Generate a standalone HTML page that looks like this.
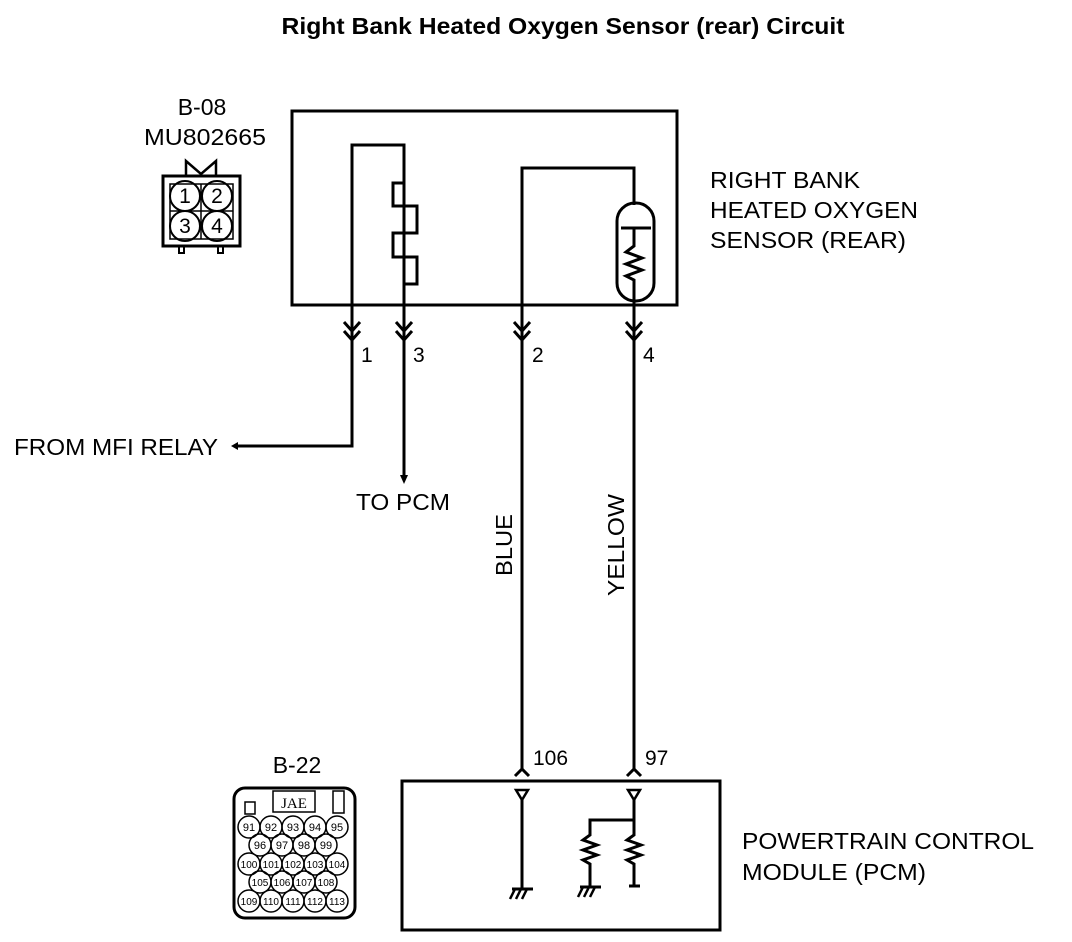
<!DOCTYPE html>
<html><head><style>
html,body{margin:0;padding:0;background:#fff;}
svg{display:block;}
text{font-family:"Liberation Sans",sans-serif;fill:#000;}
</style></head><body>
<svg width="1072" height="942" viewBox="0 0 1072 942" xmlns="http://www.w3.org/2000/svg">
<g fill="none" stroke="#000" stroke-width="3">
<rect x="292" y="111" width="385" height="194"/>
<polyline points="404,330 404,145 352,145 352,446 234,446"/>
<polyline points="404,145 404,183 393,183 393,206 417,206 417,233 393,233 393,257 417,257 417,284 404,284 404,480"/>
<polyline points="522,770 522,168 634,168 634,205"/>
<line x1="634" y1="300" x2="634" y2="770"/>
<rect x="617" y="203" width="37" height="98" rx="18"/>
<line x1="621" y1="228" x2="651" y2="228"/>
<polyline points="634,228 634,246 626,252 642,258 626,264 642,270 626,276 634,280 634,300"/>
<polyline points="344,322 352,331 360,322"/><polyline points="344,331 352,340 360,331"/>
<polyline points="396,322 404,331 412,322"/><polyline points="396,331 404,340 412,331"/>
<polyline points="514,322 522,331 530,322"/><polyline points="514,331 522,340 530,331"/>
<polyline points="626,322 634,331 642,322"/><polyline points="626,331 634,340 642,331"/>
<rect x="402" y="781" width="318" height="149"/>
<polyline points="515,776 522,769 529,776"/>
<polyline points="627,776 634,769 641,776"/>
<polygon points="516,790 528,790 522,800" stroke-width="2.5"/>
<polygon points="628,790 640,790 634,800" stroke-width="2.5"/>
<line x1="522" y1="800" x2="522" y2="889"/>
<polyline points="634,800 634,835 627,840 641,845 627,850 641,855 627,860 634,864 634,886"/>
<line x1="629" y1="886" x2="640" y2="886"/>
<polyline points="634,820 590,820 590,835 583,840 597,845 583,850 597,855 583,860 590,864 590,887"/>
<line x1="512" y1="889" x2="533" y2="889"/>
<g stroke-width="2.5"><line x1="515" y1="889" x2="510" y2="899"/><line x1="521" y1="889" x2="516" y2="899"/><line x1="527" y1="889" x2="522" y2="899"/></g>
<line x1="580" y1="887" x2="601" y2="887"/>
<g stroke-width="2.5"><line x1="583" y1="887" x2="578" y2="897"/><line x1="589" y1="887" x2="584" y2="897"/><line x1="595" y1="887" x2="590" y2="897"/></g>
<rect x="163" y="176" width="77" height="70"/>
<polyline points="186,176 186,161 201,174 216,161 216,176" stroke-width="2.5"/>
<rect x="170" y="184" width="63" height="55" stroke-width="1.5"/>
<line x1="201" y1="184" x2="201" y2="239" stroke-width="1.5"/>
<line x1="170" y1="211" x2="233" y2="211" stroke-width="1.5"/>
<g stroke-width="2"><circle cx="185" cy="196" r="15"/><circle cx="217" cy="196" r="15"/><circle cx="185" cy="226" r="15"/><circle cx="217" cy="226" r="15"/></g>
<rect x="179" y="246" width="5" height="7" stroke-width="2"/><rect x="218" y="246" width="5" height="7" stroke-width="2"/>
<rect x="234" y="788" width="121" height="130" rx="11"/>
<rect x="273" y="791" width="42" height="21" stroke-width="1.5"/>
<rect x="245" y="802" width="10" height="12" stroke-width="1.5"/>
<rect x="333" y="791" width="11" height="22" stroke-width="1.5"/>
<g stroke-width="1.5">
<circle cx="249" cy="827" r="11"/><circle cx="271" cy="827" r="11"/><circle cx="293" cy="827" r="11"/><circle cx="315" cy="827" r="11"/><circle cx="337" cy="827" r="11"/>
<circle cx="260" cy="845" r="11"/><circle cx="282" cy="845" r="11"/><circle cx="304" cy="845" r="11"/><circle cx="326" cy="845" r="11"/>
<circle cx="249" cy="864" r="11"/><circle cx="271" cy="864" r="11"/><circle cx="293" cy="864" r="11"/><circle cx="315" cy="864" r="11"/><circle cx="337" cy="864" r="11"/>
<circle cx="260" cy="882" r="11"/><circle cx="282" cy="882" r="11"/><circle cx="304" cy="882" r="11"/><circle cx="326" cy="882" r="11"/>
<circle cx="249" cy="901" r="11"/><circle cx="271" cy="901" r="11"/><circle cx="293" cy="901" r="11"/><circle cx="315" cy="901" r="11"/><circle cx="337" cy="901" r="11"/>
</g>
</g>
<polygon points="231,446 238,442 238,450" fill="#000"/>
<polygon points="400,475 408,475 404,484" fill="#000"/>
<text x="563" y="34" font-size="23" font-weight="bold" text-anchor="middle" textLength="563" lengthAdjust="spacingAndGlyphs">Right Bank Heated Oxygen Sensor (rear) Circuit</text>
<text x="202" y="115" font-size="23" text-anchor="middle">B-08</text>
<text x="205" y="145" font-size="23" text-anchor="middle" textLength="122" lengthAdjust="spacingAndGlyphs">MU802665</text>
<g font-size="21" text-anchor="middle">
<text x="185" y="203">1</text><text x="217" y="203">2</text><text x="185" y="233">3</text><text x="217" y="233">4</text>
</g>
<g font-size="23">
<text x="710" y="188" textLength="150" lengthAdjust="spacingAndGlyphs">RIGHT BANK</text>
<text x="710" y="218" textLength="208" lengthAdjust="spacingAndGlyphs">HEATED OXYGEN</text>
<text x="710" y="248" textLength="196" lengthAdjust="spacingAndGlyphs">SENSOR (REAR)</text>
</g>
<g font-size="21"><text x="361" y="362">1</text><text x="413" y="362">3</text><text x="532" y="362">2</text><text x="643" y="362">4</text></g>
<text x="14" y="455" font-size="23" textLength="204" lengthAdjust="spacingAndGlyphs">FROM MFI RELAY</text>
<text x="356" y="510" font-size="23" textLength="94" lengthAdjust="spacingAndGlyphs">TO PCM</text>
<text transform="translate(512,576) rotate(-90)" font-size="23" textLength="62" lengthAdjust="spacingAndGlyphs">BLUE</text>
<text transform="translate(624,596) rotate(-90)" font-size="23" textLength="102" lengthAdjust="spacingAndGlyphs">YELLOW</text>
<text x="533" y="765" font-size="21">106</text>
<text x="645" y="765" font-size="21">97</text>
<text x="297" y="773" font-size="23" text-anchor="middle">B-22</text>
<text x="294" y="808" font-size="15" text-anchor="middle" style="font-family:'Liberation Serif',serif">JAE</text>
<g font-size="11" text-anchor="middle">
<text x="249" y="831">91</text><text x="271" y="831">92</text><text x="293" y="831">93</text><text x="315" y="831">94</text><text x="337" y="831">95</text>
<text x="260" y="849">96</text><text x="282" y="849">97</text><text x="304" y="849">98</text><text x="326" y="849">99</text>
<text x="249" y="868" font-size="10">100</text><text x="271" y="868" font-size="10">101</text><text x="293" y="868" font-size="10">102</text><text x="315" y="868" font-size="10">103</text><text x="337" y="868" font-size="10">104</text>
<text x="260" y="886" font-size="10">105</text><text x="282" y="886" font-size="10">106</text><text x="304" y="886" font-size="10">107</text><text x="326" y="886" font-size="10">108</text>
<text x="249" y="905" font-size="10">109</text><text x="271" y="905" font-size="10">110</text><text x="293" y="905" font-size="10">111</text><text x="315" y="905" font-size="10">112</text><text x="337" y="905" font-size="10">113</text>
</g>
<text x="742" y="849" font-size="23" textLength="292" lengthAdjust="spacingAndGlyphs">POWERTRAIN CONTROL</text>
<text x="742" y="880" font-size="23" textLength="184" lengthAdjust="spacingAndGlyphs">MODULE (PCM)</text>
</svg>
</body></html>
